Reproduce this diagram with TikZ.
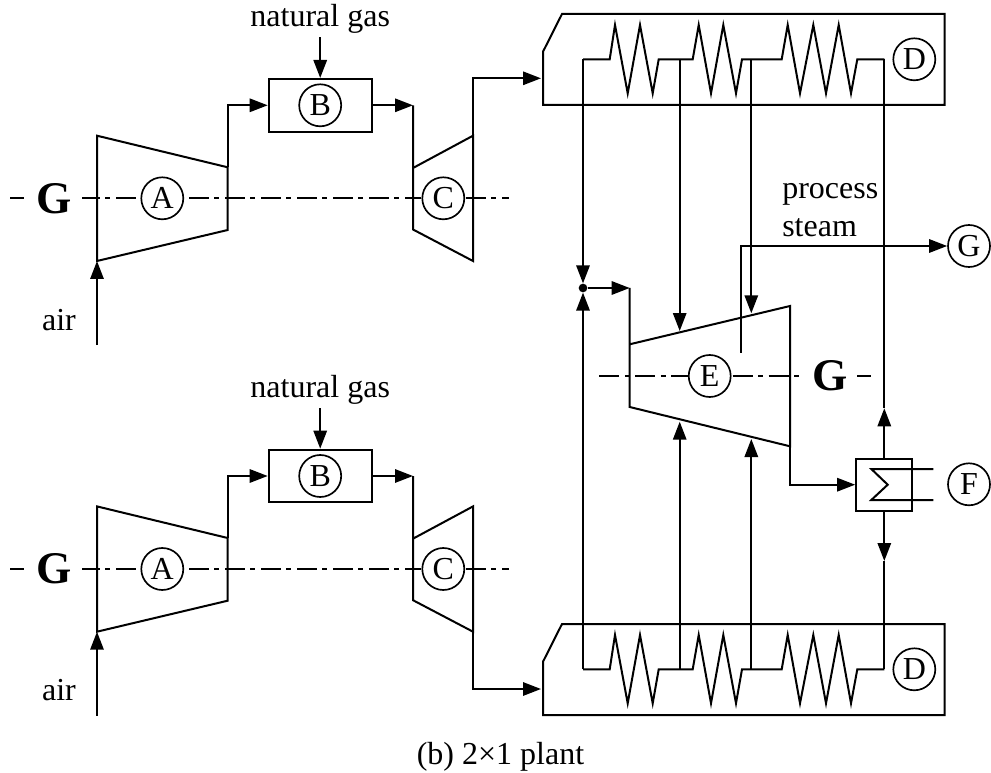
\documentclass[tikz,border=0pt]{standalone}
\usepackage{fontspec}
\setmainfont{Liberation Serif}
\usepackage{tikz}
\usetikzlibrary{arrows.meta}

\tikzset{
 >={Triangle[length=13.5pt,width=10pt]},
 pipe/.style={line width=1.5pt, line join=miter},
 shaft/.style={line width=1.3pt, dash pattern=on 15pt off 4.1pt on 3.75pt off 4.15pt},
 shaftbit/.style={line width=1.3pt},
 tag/.style={draw, circle, line width=1.25pt, minimum size=31.5pt, inner sep=0pt},
 label/.style={anchor=base, inner sep=0pt},
 gen/.style={anchor=center, inner sep=0pt, font=\fontsize{34}{34}\selectfont\bfseries},
}

\begin{document}
\begin{tikzpicture}[x=0.75pt, y=-0.75pt, font=\fontsize{24}{28}\selectfont]
\useasboundingbox (0,0) rectangle (991,773);

%% gas turbine trains, upper and lower
 \foreach \train/\dy/\outy/\ducty in {u/0/135.7/78.3, l/370.7/631.7/689}
  {
  \coordinate (comptl\train) at (97,135.7+\dy);
  \coordinate (compbl\train) at (97,261+\dy);
  \coordinate (comptr\train) at (227.7,167.3+\dy);
  \coordinate (compbr\train) at (227.7,230+\dy);
  \coordinate (inlet\train) at (97,345+\dy);
  \coordinate (turbtl\train) at (413,168+\dy);
  \coordinate (turbbl\train) at (413,229.5+\dy);
  \coordinate (turbtr\train) at (473,135.7+\dy);
  \coordinate (turbbr\train) at (473,261+\dy);
  \coordinate (turbin\train) at (413,105.3+\dy);
  \coordinate (turbout\train) at (473,\outy);
  \coordinate (duct\train) at (541,\ducty);
  \coordinate (fuel\train) at (320.2,37.5+\dy);

  \path
  (162.3,198.3+\dy) node[tag] (A\train){A}
  (443.3,198.3+\dy) node[tag] (C\train){C}
  (320.2,105.3+\dy) node[draw, pipe, minimum width=77.25pt, minimum height=39.5pt] (burner\train){}
  (320.2,105.3+\dy) node[tag] (B\train){B}
  (320.2,27+\dy) node[label] (gas\train){natural gas}
  (59,330+\dy) node[label] (air\train){air}
  (54,198.3+\dy) node[gen] (G\train){G};

  \draw[pipe] (comptl\train) -- (comptr\train) -- (compbr\train) -- (compbl\train) -- cycle;
  \draw[pipe] (turbin\train) -- (turbbl\train) -- (turbbr\train) -- (turbtr\train) -- (turbtl\train);
  \draw[pipe] (turbtr\train) -- (turbbr\train);

  \draw[pipe, ->] (inlet\train) -- (compbl\train);
  \draw[pipe, ->] (fuel\train) -- (burner\train.north);
  \draw[pipe, ->] (comptr\train) |- (burner\train.west);
  \draw[pipe, ->] (burner\train.east) -- (turbin\train);
  \draw[pipe, ->] (turbout\train) |- (duct\train);

  % shaft line, broken at the tags
  \draw[shaftbit] (10,198.3+\dy) -- (24,198.3+\dy);
  \draw[shaft, dash phase=1.5pt] (82,198.3+\dy) -- (137,198.3+\dy);
  \draw[shaft] (189,198.3+\dy) -- (C\train.west);
  \draw[shaft] (466,198.3+\dy) -- (509,198.3+\dy);
  }

%% boilers with their coils
 \foreach \train/\dy in {u/0, l/610}
  {
  \coordinate (hpin\train) at (583,59.3+\dy);
  \coordinate (tapa\train) at (679.7,59.3+\dy);
  \coordinate (tapb\train) at (751.3,59.3+\dy);
  \coordinate (tapc\train) at (884.3,59.3+\dy);

  \draw[pipe] (543,51.7+\dy) -- (562,14+\dy) -- (944.5,14+\dy) -- (944.5,105+\dy) -- (543,105+\dy) -- cycle;

  \draw[pipe] (hpin\train) -- (609.7,59.3+\dy) -- (615,25+\dy) -- (627.7,93.3+\dy) -- (640,25+\dy)
   -- (652.7,93.3+\dy) -- (658.7,59.3+\dy) -- (tapa\train) -- (692.7,59.3+\dy)
   -- (698.7,25+\dy) -- (711,93.3+\dy) -- (723.3,25+\dy) -- (736,93.3+\dy) -- (742,59.3+\dy)
   -- (tapb\train) -- (781.7,59.3+\dy) -- (787.7,25+\dy) -- (800,93.3+\dy) -- (813.3,25+\dy)
   -- (826,93.3+\dy) -- (838.7,25+\dy) -- (851,93.3+\dy) -- (857.3,59.3+\dy) -- (tapc\train);

  \path
  (914.3,59.3+\dy) node[tag] (D\train){D};
  }

%% steam turbine
\coordinate (steamin) at (629.7,288);
\coordinate (steamtl) at (629.7,344.3);
\coordinate (steambl) at (629.7,407);
\coordinate (steamtr) at (790,306);
\coordinate (steambr) at (790,446.3);
\coordinate (bleed) at (740.7,352.7);
\coordinate (hitopa) at (679.7,331);
\coordinate (hitopb) at (751.3,313.3);
\coordinate (hibota) at (679.7,421.7);
\coordinate (hibotb) at (751.3,439);
\coordinate (riser) at (884.3,408.3);
\coordinate (downer) at (884.3,561);

\path
(583,288) node[fill, circle, minimum size=6.5pt, inner sep=0pt] (junc){}
(709.7,376) node[tag] (E){E}
(969,246) node[tag] (Gsteam){G}
(969,484.3) node[tag] (F){F}
(830,376) node[gen] (Gmain){G}
(884.3,484.7) node[draw, pipe, minimum width=42.2pt, minimum height=39pt] (cond){}
(782,199) node[label, anchor=base west] (process){process}
(782,237) node[label, anchor=base west] (steam){steam}
(500.5,764) node[label] (caption){(b) 2×1 plant};

\draw[pipe] (steamin) -- (steambl) -- (steambr) -- (steamtr) -- (steamtl);

\draw[pipe, ->] (hpinu) -- (junc);
\draw[pipe, ->] (hpinl) -- (junc);
\draw[pipe, ->] (junc) -- (steamin);
\draw[pipe, ->] (tapau) -- (hitopa);
\draw[pipe, ->] (tapbu) -- (hitopb);
\draw[pipe, ->] (tapal) -- (hibota);
\draw[pipe, ->] (tapbl) -- (hibotb);
\draw[pipe, ->] (bleed) |- (Gsteam);
\draw[pipe, ->] (steambr) |- (cond.west);

% condenser outlets, arrow half way along the pipe
\draw[pipe, ->] (cond.north -| tapcu) -- (riser);
\draw[pipe] (riser) -- (tapcu);
\draw[pipe, ->] (cond.south -| tapcl) -- (downer);
\draw[pipe] (downer) -- (tapcl);

%% condenser coil
\draw[pipe] (933.3,469) -- (871.3,469) -- (887.7,484.7) -- (871.3,500) -- (933.3,500);

%% steam shaft
\draw[shaft] (599.3,376) -- (E.west);
\draw[shaft] (732.7,376) -- (799.3,376);
\draw[shaftbit] (857.3,376) -- (871.3,376);

\end{tikzpicture}
\end{document}
